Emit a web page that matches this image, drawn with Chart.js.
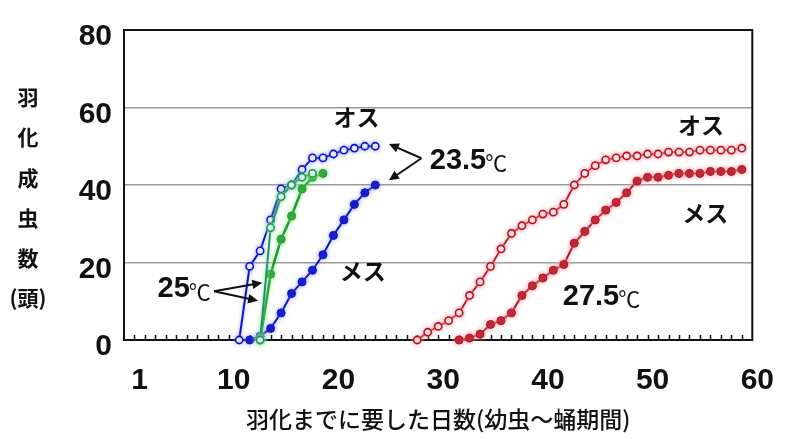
<!DOCTYPE html>
<html lang="ja">
<head>
<meta charset="utf-8">
<title>羽化までに要した日数</title>
<script src="https://cdn.jsdelivr.net/npm/chart.js@4.4.0/dist/chart.umd.min.js"></script>
<style>
  html, body { margin: 0; padding: 0; background: #fff; }
  #wrap { width: 792px; height: 439px; }
</style>
</head>
<body>
<div id="wrap"><canvas id="chart" width="792" height="439"></canvas></div>
<script>
// days to emergence / cumulative adults
const days25Male = [13, 14, 15, 16, 17, 18];
const male25 = [0, 29, 37, 40, 42, 43];
const days25Female = [13, 14, 15, 16, 17, 18, 19];
const female25 = [0, 17, 26, 32, 39, 42, 43];

const days235Male = [11, 12, 13, 14, 15, 16, 17, 18, 19, 20, 21, 22, 23, 24];
const male235 = [0, 19, 23, 31, 39, 40, 44, 47, 47, 48, 49, 49.5, 50, 50];
const days235Female = [12, 13, 14, 15, 16, 17, 18, 19, 20, 21, 22, 23, 24];
const female235 = [0, 1, 3, 7, 12, 15, 18, 22, 27, 31, 35, 38, 40];

const days275Male = [28, 29, 30, 31, 32, 33, 34, 35, 36, 37, 38, 39, 40, 41, 42, 43,
  44, 45, 46, 47, 48, 49, 50, 51, 52, 53, 54, 55, 56, 57, 58, 59];
const male275 = [0, 2, 3.5, 5, 7, 11.5, 15, 19, 23.5, 27.5, 29.5, 31, 32.5, 33, 35, 40,
  43, 45, 46.5, 47, 47.5, 47.5, 48, 48, 48.5, 48.5, 48.5, 49, 49, 49, 49, 49.5];
const days275Female = [32, 33, 34, 35, 36, 37, 38, 39, 40, 41, 42, 43, 44, 45,
  46, 47, 48, 49, 50, 51, 52, 53, 54, 55, 56, 57, 58, 59];
const female275 = [0, 0.5, 1.5, 4, 5, 7, 11.5, 14, 16, 18, 19.5, 25, 28, 31,
  33.5, 35.5, 38, 41, 42, 42, 42.5, 43, 43, 43, 43.5, 43.5, 43.5, 44];

const xTickValues = [1, 10, 20, 30, 40, 50, 60];
const xTickLabels = ['1', '10', '20', '30', '40', '50', '60'];
const yTickLabels = ['0', '20', '40', '60', '80'];

const yTitle = ['羽', '化', '成', '虫', '数', '(頭)'];
const xTitle = '羽化までに要した日数(幼虫～蛹期間)';

// text notes, placed in data units
const sexNotes = [
  { text: 'オス', day: 22.2, n: 57.6 },
  { text: 'メス', day: 22.8, n: 17.7 },
  { text: 'オス', day: 55.1, n: 55.3 },
  { text: 'メス', day: 55.5, n: 32.6 },
];
const tempNotes = [
  { text: '23.5', day: 29.2, n: 46.2 },
  { text: '25', day: 3.2, n: 13.1 },
  { text: '27.5', day: 41.9, n: 11.1 },
];
const arrows = [
  { from: [28.4, 46.9], to: [25.3, 50.6] },
  { from: [28.4, 46.9], to: [25.3, 41.2] },
  { from: [8.6, 12.6], to: [13.2, 14.8] },
  { from: [8.6, 12.6], to: [12.8, 10.1] },
];

const NUM_FONT = "'Liberation Sans', Arial, sans-serif";
const JP_FONT = "'Noto Sans CJK JP', 'Noto Sans CJK SC', sans-serif";

const BLUE = '#0c14c4';
const GREEN = '#1e9a2e';
const TEAL = '#1f8f70';
const RED = '#b3121f';

function pts(xs, ys) { return xs.map((d, i) => ({ x: d, y: ys[i] })); }

const frame = {
  id: 'frame',
  beforeDatasetsDraw(chart) {
    const { ctx, chartArea: a, scales: { x } } = chart;
    ctx.save();
    ctx.strokeStyle = '#111';
    ctx.lineWidth = 1.5;
    ctx.beginPath();
    for (let d = 1; d < 60; d++) {
      const px = Math.round(x.getPixelForValue(d)) + 0.5;
      ctx.moveTo(px, a.bottom);
      ctx.lineTo(px, a.bottom - 5);
    }
    ctx.stroke();
    ctx.lineWidth = 2;
    ctx.strokeRect(a.left, a.top, a.right - a.left, a.bottom - a.top);
    ctx.restore();
  }
};

const glow = {
  id: 'glow',
  beforeDatasetDraw(chart, args) {
    const ds = chart.data.datasets[args.index];
    chart.ctx.save();
    if (ds.glow) { chart.ctx.shadowColor = ds.glow; chart.ctx.shadowBlur = 4; }
  },
  afterDatasetDraw(chart) { chart.ctx.restore(); }
};

const notes = {
  id: 'notes',
  afterDraw(chart) {
    const { ctx, scales: { x, y }, chartArea: a } = chart;
    ctx.save();
    ctx.fillStyle = '#111';
    ctx.strokeStyle = '#111';

    // stacked y title
    ctx.font = 'bold 21px ' + JP_FONT;
    ctx.textAlign = 'center';
    ctx.textBaseline = 'middle';
    yTitle.forEach((c, i) => ctx.fillText(c, 28, a.top + 67 + i * 40.3));

    ctx.font = 'bold 23px ' + JP_FONT;
    for (const s of sexNotes) {
      ctx.fillText(s.text, x.getPixelForValue(s.day), y.getPixelForValue(s.n));
    }

    ctx.textAlign = 'left';
    for (const t of tempNotes) {
      const px = x.getPixelForValue(t.day), py = y.getPixelForValue(t.n);
      ctx.font = 'bold 29px ' + NUM_FONT;
      ctx.fillText(t.text, px, py);
      const w = ctx.measureText(t.text).width;
      ctx.font = '22px ' + JP_FONT;
      ctx.fillText('℃', px + w - 1, py + 2);
    }

    ctx.lineWidth = 2;
    for (const ar of arrows) {
      const x0 = x.getPixelForValue(ar.from[0]), y0 = y.getPixelForValue(ar.from[1]);
      const x1 = x.getPixelForValue(ar.to[0]), y1 = y.getPixelForValue(ar.to[1]);
      const ang = Math.atan2(y1 - y0, x1 - x0);
      ctx.beginPath();
      ctx.moveTo(x0, y0);
      ctx.lineTo(x1 - Math.cos(ang) * 6, y1 - Math.sin(ang) * 6);
      ctx.stroke();
      ctx.beginPath();
      ctx.moveTo(x1, y1);
      ctx.lineTo(x1 - Math.cos(ang - 0.45) * 11, y1 - Math.sin(ang - 0.45) * 11);
      ctx.lineTo(x1 - Math.cos(ang + 0.45) * 11, y1 - Math.sin(ang + 0.45) * 11);
      ctx.closePath();
      ctx.fill();
    }
    ctx.restore();
  }
};

function open(color) {
  return { pointBackgroundColor: '#fff', pointBorderColor: color, pointRadius: 3.6, pointBorderWidth: 1.6 };
}
function filled(color) {
  return { pointBackgroundColor: color, pointBorderColor: color, pointRadius: 4, pointBorderWidth: 1 };
}

const datasets = [
  { label: '25℃ オス', data: pts(days25Male, male25), borderColor: TEAL, borderWidth: 2, glow: '#8fe88f', ...open(TEAL) },
  { label: '25℃ メス', data: pts(days25Female, female25), borderColor: GREEN, borderWidth: 2.5, glow: '#8fe88f', ...filled(GREEN) },
  { label: '23.5℃ オス', data: pts(days235Male, male235), borderColor: BLUE, borderWidth: 2, glow: 'rgba(120,130,255,0.6)', ...open(BLUE) },
  { label: '23.5℃ メス', data: pts(days235Female, female235), borderColor: BLUE, borderWidth: 2, glow: 'rgba(120,130,255,0.6)', ...filled(BLUE) },
  { label: '27.5℃ オス', data: pts(days275Male, male275), borderColor: RED, borderWidth: 1.8, glow: '#f59aa2', ...open(RED) },
  { label: '27.5℃ メス', data: pts(days275Female, female275), borderColor: RED, borderWidth: 2, glow: '#f59aa2', ...filled(RED) },
];
datasets.forEach(ds => { ds.showLine = true; ds.clip = false; ds.tension = 0; });

new Chart(document.getElementById('chart'), {
  type: 'scatter',
  data: { datasets },
  plugins: [frame, glow, notes],
  options: {
    responsive: false,
    animation: false,
    devicePixelRatio: 1,
    layout: { padding: { top: 23, right: 25, left: 0, bottom: 0 } },
    plugins: { legend: { display: false }, tooltip: { enabled: false } },
    scales: {
      x: {
        type: 'linear',
        min: 0,
        max: 60,
        afterBuildTicks: s => { s.ticks = xTickValues.map(v => ({ value: v })); },
        afterFit: s => { s.height = 99; },
        border: { display: false },
        grid: { display: false, drawTicks: false },
        ticks: {
          autoSkip: false,
          maxRotation: 0,
          padding: 23,
          labelOffset: 5,
          color: '#111',
          font: { family: NUM_FONT, size: 30, weight: 'bold' },
          callback: (v, i) => xTickLabels[i]
        },
        title: {
          display: true,
          text: xTitle,
          color: '#111',
          padding: { top: 0, bottom: 6 },
          font: { family: JP_FONT, size: 23, weight: '500' }
        }
      },
      y: {
        min: 0,
        max: 80,
        afterFit: s => { s.width = 124; },
        border: { display: false },
        grid: {
          drawTicks: false,
          lineWidth: 1.5,
          color: c => (c.tick.value === 0 || c.tick.value === 80) ? 'rgba(0,0,0,0)' : '#9a9a9a'
        },
        ticks: {
          stepSize: 20,
          padding: 12,
          labelOffset: 7,
          color: '#111',
          font: { family: NUM_FONT, size: 30, weight: 'bold' },
          callback: (v, i) => yTickLabels[i]
        }
      }
    }
  }
});
</script>
</body>
</html>
